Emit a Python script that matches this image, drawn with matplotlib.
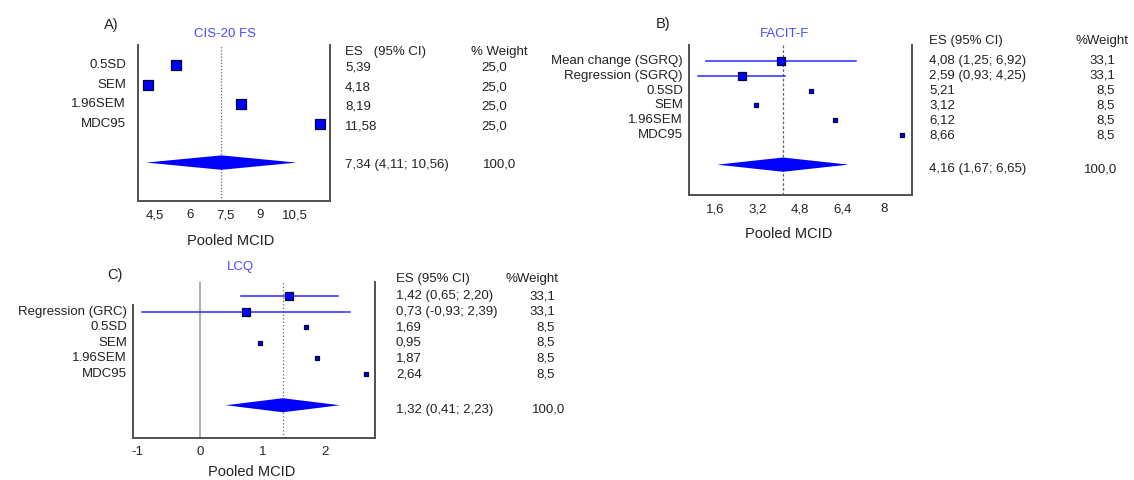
import matplotlib
matplotlib.use('Agg')
import matplotlib.pyplot as plt
import matplotlib.transforms as mtransforms

plt.rcParams['font.family'] = ['Liberation Sans', 'DejaVu Sans']

# ---------------- data ----------------
a_title = 'CIS-20 FS'
a_labels = ['0.5SD', 'SEM', '1.96SEM', 'MDC95']
a_es = [5.39, 4.18, 8.19, 11.58]
a_weight = [25.0, 25.0, 25.0, 25.0]
a_pool = [7.34, 4.11, 10.56]
a_ticks = [4.5, 6, 7.5, 9, 10.5]
a_ticklabels = ['4,5', '6', '7,5', '9', '10,5']

b_title = 'FACIT-F'
b_labels = ['Mean change (SGRQ)', 'Regression (SGRQ)', '0.5SD', 'SEM', '1.96SEM', 'MDC95']
b_es = [4.08, 2.59, 5.21, 3.12, 6.12, 8.66]
b_lo = [1.25, 0.93, None, None, None, None]
b_hi = [6.92, 4.25, None, None, None, None]
b_weight = [33.1, 33.1, 8.5, 8.5, 8.5, 8.5]
b_pool = [4.16, 1.67, 6.65]
b_ticks = [1.6, 3.2, 4.8, 6.4, 8]
b_ticklabels = ['1,6', '3,2', '4,8', '6,4', '8']

c_title = 'LCQ'
c_labels = ['', 'Regression (GRC)', '0.5SD', 'SEM', '1.96SEM', 'MDC95']
c_es = [1.42, 0.73, 1.69, 0.95, 1.87, 2.64]
c_lo = [0.65, -0.93, None, None, None, None]
c_hi = [2.20, 2.39, None, None, None, None]
c_weight = [33.1, 33.1, 8.5, 8.5, 8.5, 8.5]
c_pool = [1.32, 0.41, 2.23]
c_ticks = [-1, 0, 1, 2]
c_ticklabels = ['-1', '0', '1', '2']

# ---------------- style ----------------
W, H = 1134, 480
fig = plt.figure(figsize=(W / 100, H / 100), dpi=100)

TXT = '#222222'
BLUE = '#0000ff'
TITLE_C = '#4a4aff'
SPINE = '#505050'
FS = 9.5


def fx(x):
    return x / W


def fy(y):
    return 1 - y / H


def num(v):
    return f"{v:.2f}".replace('.', ',')


def wt(v):
    return f"{v:.1f}".replace('.', ',')


def make_ax(l, t, r, b, xlim, ylim):
    ax = fig.add_axes([l / W, 1 - b / H, (r - l) / W, (b - t) / H])
    ax.set_xlim(*xlim)
    ax.set_ylim(*ylim)
    ax.spines['top'].set_visible(False)
    for s in ('left', 'right', 'bottom'):
        ax.spines[s].set_color(SPINE)
        ax.spines[s].set_linewidth(1.4)
    ax.tick_params(axis='x', length=0, pad=6, labelcolor=TXT, labelsize=9.5)
    ax.tick_params(axis='y', length=0)
    ax.set_facecolor('none')
    return ax


def panel(ax, labels, es, lo, hi, weight, pool, ticks, ticklabels, rows, drow,
          ms_fn, dh, label_right, dash):
    ax.axvline(pool[0], color='#666666', lw=0.9, ls=dash, zorder=1)
    for i, r in enumerate(rows):
        if lo is not None and lo[i] is not None:
            ax.plot([lo[i], hi[i]], [r, r], color='#2a2aff', lw=1.1, zorder=2)
        ms = ms_fn(weight[i])
        ax.plot([es[i]], [r], marker='s', ms=ms * 0.72, mfc=BLUE, mec='#000033',
                mew=0.9, zorder=3, ls='none')
    p, l, h = pool
    ax.fill([l, p, h, p], [drow, drow - dh, drow, drow + dh], color=BLUE, lw=0, zorder=3)
    ax.set_xticks(ticks)
    ax.set_xticklabels(ticklabels)
    ax.set_yticks([])
    tr = mtransforms.blended_transform_factory(fig.transFigure, ax.transData)
    for i, r in enumerate(rows):
        ax.text(fx(label_right), r, labels[i], transform=tr, ha='right', va='center',
                fontsize=FS, color=TXT)
    return tr


# ---------------- panel A ----------------
axA = make_ax(138, 45, 330, 201, (3.76, 12.0), (6.97, -1.03))
rowsA = [0, 1, 2, 3]
trA = panel(axA, a_labels, a_es, None, None, a_weight, a_pool, a_ticks, a_ticklabels,
            rowsA, 5, lambda w: 10, 0.37, 126, (0, (1, 1.5)))
for i, r in enumerate(rowsA):
    axA.text(fx(345), r + 0.13, num(a_es[i]), transform=trA, ha='left', va='center',
             fontsize=FS, color=TXT)
    axA.text(fx(481), r + 0.13, wt(a_weight[i]), transform=trA, ha='left', va='center',
             fontsize=FS, color=TXT)
axA.text(fx(345), 5.1, f"{num(a_pool[0])} ({num(a_pool[1])}; {num(a_pool[2])})",
         transform=trA, ha='left', va='center', fontsize=FS, color=TXT)
axA.text(fx(483), 5.1, wt(sum(a_weight)), transform=trA, ha='left', va='center',
         fontsize=FS, color=TXT)
fig.text(fx(345), fy(52), 'ES   (95% CI)', ha='left', va='center', fontsize=FS, color=TXT)
fig.text(fx(471), fy(52), '% Weight', ha='left', va='center', fontsize=FS, color=TXT)
fig.text(fx(225), fy(34), a_title, ha='center', va='center', fontsize=9.5, color=TITLE_C)
fig.text(fx(111), fy(25), 'A)', ha='center', va='center', fontsize=10.5, color=TXT)
fig.text(fx(231), fy(241), 'Pooled MCID', ha='center', va='center', fontsize=10.5, color=TXT)

# ---------------- panel B ----------------
axB = make_ax(689, 45, 912, 195, (0.6, 9.05), (9.05, -1.08))
rowsB = [0, 1, 2, 3, 4, 5]
trB = panel(axB, b_labels, b_es, b_lo, b_hi, b_weight, b_pool, b_ticks, b_ticklabels,
            rowsB, 7, lambda w: 3.6 + 0.12 * w, 0.48, 683, (0, (2.2, 1.6)))
for i, r in enumerate(rowsB):
    if b_lo[i] is not None:
        s = f"{num(b_es[i])} ({num(b_lo[i])}; {num(b_hi[i])})"
    else:
        s = num(b_es[i])
    axB.text(fx(929), r, s, transform=trB, ha='left', va='center', fontsize=FS, color=TXT)
    axB.text(fx(1115), r, wt(b_weight[i]), transform=trB, ha='right', va='center',
             fontsize=FS, color=TXT)
axB.text(fx(929), 7.3, f"{num(b_pool[0])} ({num(b_pool[1])}; {num(b_pool[2])})",
         transform=trB, ha='left', va='center', fontsize=FS, color=TXT)
axB.text(fx(1117), 7.3, wt(100.0), transform=trB, ha='right', va='center',
         fontsize=FS, color=TXT)
fig.text(fx(929), fy(41), 'ES (95% CI)', ha='left', va='center', fontsize=FS, color=TXT)
fig.text(fx(1076), fy(41), '%Weight', ha='left', va='center', fontsize=FS, color=TXT)
fig.text(fx(785), fy(34), b_title, ha='center', va='center', fontsize=9.5, color=TITLE_C)
fig.text(fx(663), fy(24), 'B)', ha='center', va='center', fontsize=10.5, color=TXT)
fig.text(fx(789), fy(234), 'Pooled MCID', ha='center', va='center', fontsize=10.5, color=TXT)

# ---------------- panel C ----------------
axC = make_ax(133, 282, 375, 438, (-1.07, 2.79), (9.1, -0.9))
axC.spines['left'].set_bounds(0.55, 9.1)
axC.axvline(0, color='#999999', lw=1.1, zorder=1)
rowsC = [0, 1, 2, 3, 4, 5]
trC = panel(axC, c_labels, c_es, c_lo, c_hi, c_weight, c_pool, c_ticks, c_ticklabels,
            rowsC, 7, lambda w: 3.6 + 0.13 * w, 0.45, 127, (0, (1, 1.8)))
for i, r in enumerate(rowsC):
    if c_lo[i] is not None:
        s = f"{num(c_es[i])} ({num(c_lo[i])}; {num(c_hi[i])})"
    else:
        s = num(c_es[i])
    axC.text(fx(396), r, s, transform=trC, ha='left', va='center', fontsize=FS, color=TXT)
    axC.text(fx(555), r, wt(c_weight[i]), transform=trC, ha='right', va='center',
             fontsize=FS, color=TXT)
axC.text(fx(396), 7.3, f"{num(c_pool[0])} ({num(c_pool[1])}; {num(c_pool[2])})",
         transform=trC, ha='left', va='center', fontsize=FS, color=TXT)
axC.text(fx(565), 7.3, wt(100.0), transform=trC, ha='right', va='center',
         fontsize=FS, color=TXT)
fig.text(fx(396), fy(279), 'ES (95% CI)', ha='left', va='center', fontsize=FS, color=TXT)
fig.text(fx(506), fy(279), '%Weight', ha='left', va='center', fontsize=FS, color=TXT)
fig.text(fx(240), fy(267), c_title, ha='center', va='center', fontsize=9.5, color=TITLE_C)
fig.text(fx(115), fy(275), 'C)', ha='center', va='center', fontsize=10.5, color=TXT)
fig.text(fx(252), fy(472), 'Pooled MCID', ha='center', va='center', fontsize=10.5, color=TXT)

fig.savefig('out.png', dpi=100, facecolor='white')
